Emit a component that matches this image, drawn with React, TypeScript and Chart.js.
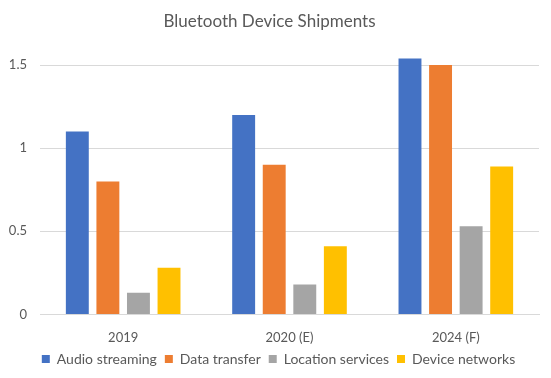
import React, { useEffect, useRef } from "react";
import { Chart, registerables } from "chart.js";

Chart.register(...registerables);

const categories = ["2019", "2020 (E)", "2024 (F)"];
const audioStreaming = [1.1, 1.2, 1.54];
const dataTransfer = [0.8, 0.9, 1.5];
const locationServices = [0.13, 0.18, 0.53];
const deviceNetworks = [0.28, 0.41, 0.89];
const seriesNames = ["Audio streaming", "Data transfer", "Location services", "Device networks"];
const seriesColors = ["#4472C4", "#ED7D31", "#A5A5A5", "#FFC000"];
const yTicks = [0, 0.5, 1, 1.5];

const FONT = "Lato, 'Open Sans', sans-serif";
const TEXT = "#595959";

const legendShift = {
  id: "legendShift",
  afterLayout(chart: any) {
    if (chart.legend) {
      chart.legend.left += 9;
      chart.legend.right += 9;
    }
  },
};

export default function App() {
  const ref = useRef<HTMLCanvasElement>(null);
  useEffect(() => {
    document.body.style.margin = "0";
    const values = [audioStreaming, dataTransfer, locationServices, deviceNetworks];
    const chart = new Chart(ref.current!, {
      type: "bar",
      data: {
        labels: categories,
        datasets: values.map((v, i) => ({
          label: seriesNames[i],
          data: v,
          backgroundColor: seriesColors[i],
          borderWidth: 0,
          categoryPercentage: 0.735,
          barPercentage: 0.75,
        })),
      },
      plugins: [legendShift],
      options: {
        animation: false,
        responsive: false,
        layout: { padding: { left: 0, right: 12, top: 8, bottom: 2 } },
        plugins: {
          title: {
            display: true,
            text: "Bluetooth Device Shipments",
            color: TEXT,
            font: { family: FONT, size: 17, weight: "normal" },
            padding: { top: 3, bottom: 17 },
          },
          legend: {
            position: "bottom",
            labels: {
              color: TEXT,
              font: { family: FONT, size: 14 },
              boxWidth: 8,
              boxHeight: 8,
              padding: 8,
            },
          },
          tooltip: { enabled: false },
        },
        scales: {
          x: {
            grid: { display: false, drawTicks: false },
            border: { display: true, color: "#D9D9D9" },
            ticks: { color: TEXT, font: { family: FONT, size: 13 }, padding: 16 },
            afterFit: (scale: any) => {
              scale.height = scale.height - 18;
            },
          },
          y: {
            min: 0,
            max: 1.6,
            afterBuildTicks: (scale: any) => {
              scale.ticks = yTicks.map((v) => ({ value: v }));
            },
            afterFit: (scale: any) => {
              scale.width = 40;
            },
            grid: { color: "#D9D9D9", drawTicks: false },
            border: { display: false },
            ticks: {
              color: TEXT,
              font: { family: FONT, size: 13 },
              padding: 13,
              callback: (v: any) => String(v),
            },
          },
        },
      },
    });
    return () => chart.destroy();
  }, []);
  return <canvas ref={ref} width={551} height={378} style={{ display: "block" }} />;
}
